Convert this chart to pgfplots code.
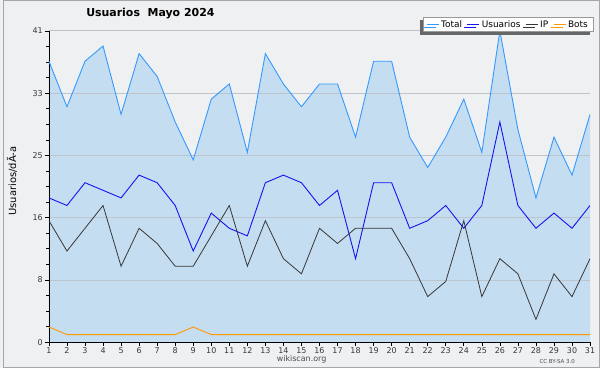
\documentclass[border=0pt]{standalone}
\usepackage{fontspec}
\setmainfont{DejaVu Sans}
\usepackage{pgfplots}
\usepackage{pgfplotstable}
\pgfplotsset{compat=1.18}
\usetikzlibrary{shadows}
\definecolor{bg}{RGB}{239,240,242}
\definecolor{fillc}{RGB}{197,221,240}
\definecolor{totc}{RGB}{51,153,255}
\definecolor{usrc}{RGB}{20,20,240}
\definecolor{ipc}{RGB}{55,55,55}
\definecolor{botc}{RGB}{255,153,0}
\definecolor{gridc}{RGB}{190,196,204}
\pgfplotstableread{
d t u ip b
1 37 19 16 2
2 31 18 12 1
3 37 21 15 1
4 39 20 18 1
5 30 19 10 1
6 38 22 15 1
7 35 21 13 1
8 29 18 10 1
9 24 12 10 2
10 32 17 14 1
11 34 15 18 1
12 25 14 10 1
13 38 21 16 1
14 34 22 11 1
15 31 21 9 1
16 34 18 15 1
17 34 20 13 1
18 27 11 15 1
19 37 21 15 1
20 37 21 15 1
21 27 15 11 1
22 23 16 6 1
23 27 18 8 1
24 32 15 16 1
25 25 18 6 1
26 41 29 11 1
27 28 18 9 1
28 19 15 3 1
29 27 17 9 1
30 22 15 6 1
31 30 18 11 1
}\data
\begin{document}
\pagecolor{bg}
\begin{tikzpicture}[x=1pt,y=1pt]
\begin{axis}[
  at={(46pt,26pt)}, anchor=south west, scale only axis,
  width=544pt, height=313pt,
  xmin=1, xmax=31, ymin=0, ymax=41,
  set layers,
  axis x line*=bottom, axis y line*=left,
  axis line style={-, black, line width=0.8pt},
  xtick={1,...,31},
  ytick={0,8.2,16.4,24.6,32.8,41}, yticklabels={0,8,16,25,33,41},
  minor y tick num=3,
  tick align=outside, major tick length=4pt, minor tick length=3pt,
  tick style={black, line width=0.6pt},
  ymajorgrids, grid style={gridc, line width=0.8pt},
  ticklabel style={font=\fontsize{8}{9}\selectfont, text=black!78},
  /pgf/number format/assume math mode=true,
  xticklabel style={inner sep=1pt},
  yticklabel style={inner sep=2pt},
  legend columns=4,
  legend style={at={(1,1)}, anchor=south east, xshift=3pt, yshift=-1pt,
    font=\fontsize{9}{10}\selectfont, draw=black!40, fill=white,
    inner xsep=3pt, inner ysep=1pt,
    drop shadow={shadow xshift=-3pt, shadow yshift=-3pt, fill=black!60, opacity=1},
    /tikz/every even column/.append style={column sep=3pt}},
  legend image code/.code={\draw[#1] (0pt,0pt) -- (12pt,0pt);},
]
\addplot[on layer=axis background, fill=fillc, draw=none, forget plot] table[x=d,y=t]{\data} \closedcycle;
\addplot[totc, line width=0.9pt] table[x=d,y=t]{\data};
\addlegendentry{Total}
\addplot[usrc, line width=0.9pt] table[x=d,y=u]{\data};
\addlegendentry{Usuarios}
\addplot[ipc, line width=0.8pt] table[x=d,y=ip]{\data};
\addlegendentry{IP}
\addplot[botc, line width=0.9pt] table[x=d,y=b]{\data};
\addlegendentry{Bots}
\end{axis}
\draw[black!35, line width=1pt] (0.5,0.5) rectangle (599.5,369.5);
\node[font=\bfseries\fontsize{11}{13}\selectfont] at (148,356) {Usuarios\ \ Mayo 2024};
\node[rotate=90, font=\fontsize{10}{11}\selectfont] at (9,188) {Usuarios/dÃ-a};
\node[font=\fontsize{8}{9}\selectfont, text=black!70] at (300,8.5) {wikiscan.org};
\node[font=\fontsize{5.5}{6}\selectfont, text=black!70] at (557,7) {CC BY-SA 3.0};
\end{tikzpicture}
\end{document}
